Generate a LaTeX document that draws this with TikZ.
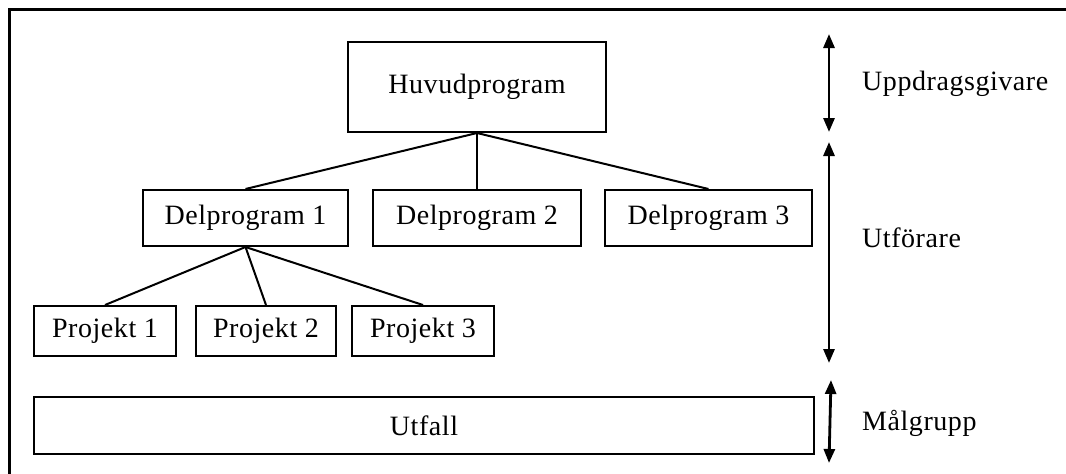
\documentclass[tikz,border=0pt]{standalone}
\usepackage{fontspec}
\setmainfont{Liberation Serif}[LetterSpace=2]
\usetikzlibrary{arrows.meta}
\begin{document}
\begin{tikzpicture}[x=1pt,y=-1pt,
  box/.style={draw,line width=2pt,inner sep=0pt,anchor=center,font=\fontsize{28}{32}\selectfont},
  conn/.style={line width=2pt},
  span/.style={line width=2.8pt,{Triangle[length=14pt,width=11pt]}-{Triangle[length=14pt,width=11pt]}},
  lab/.style={anchor=west,inner sep=0pt,font=\fontsize{28}{32}\selectfont}]
\useasboundingbox (0,0) rectangle (1066,474);
\draw[line width=2.2pt] (1080,9.5) -- (9.5,9.5) -- (9.5,490);
\node[box,minimum width=258pt,minimum height=90pt] (huv) at (477,87) {Huvudprogram};
\node[box,minimum width=205pt,minimum height=56pt] (d1) at (245.5,218) {Delprogram 1};
\node[box,minimum width=208pt,minimum height=56pt] (d2) at (477,218) {Delprogram 2};
\node[box,minimum width=207pt,minimum height=56pt] (d3) at (708.5,218) {Delprogram 3};
\node[box,minimum width=142pt,minimum height=50pt] (p1) at (105,331) {Projekt 1};
\node[box,minimum width=140pt,minimum height=50pt] (p2) at (266,331) {Projekt 2};
\node[box,minimum width=142pt,minimum height=50pt] (p3) at (423,331) {Projekt 3};
\node[box,minimum width=780pt,minimum height=57pt] (utf) at (424,425.5) {Utfall};
\draw[conn] (huv.south) -- (d1.north);
\draw[conn] (huv.south) -- (d2.north);
\draw[conn] (huv.south) -- (d3.north);
\draw[conn] (d1.south) -- (p1.north);
\draw[conn] (d1.south) -- (p2.north);
\draw[conn] (d1.south) -- (p3.north);
\coordinate (a1t) at (829,34);
\coordinate (a1b) at (829,132);
\coordinate (a2t) at (829,142);
\coordinate (a2b) at (829,363);
\coordinate (a3t) at (831,380);
\coordinate (a3b) at (829,463);
\draw[span] (a1t) -- (a1b);
\draw[span] (a2t) -- (a2b);
\draw[span] (a3t) -- (a3b);
\node[lab] (l1) at (862,84) {Uppdragsgivare};
\node[lab] (l2) at (862,238) {Utförare};
\node[lab] (l3) at (862,423) {Målgrupp};
\end{tikzpicture}
\end{document}
